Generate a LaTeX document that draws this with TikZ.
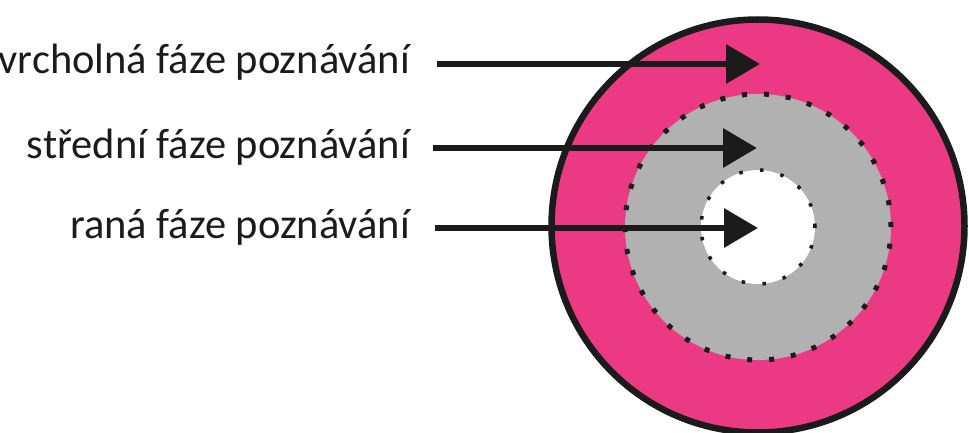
\documentclass[tikz,border=0pt]{standalone}
\usepackage{fontspec}
\setmainfont{Carlito}
\usetikzlibrary{arrows.meta,positioning}
\definecolor{ink}{RGB}{26,27,26}
\definecolor{peak}{RGB}{236,57,132}
\definecolor{mid}{RGB}{176,177,176}

\begin{document}
\begin{tikzpicture}[
    x=1pt, y=-1pt,
    ring/.style={circle, inner sep=0pt, outer sep=0pt, minimum size=#1},
    phase/.style={anchor=base east, inner sep=0pt, text=ink,
                  font=\fontsize{42.5}{50}\selectfont},
    arrow/.style={-{Triangle[length=34pt, width=38pt]}, line width=6.5pt, ink}
]
\useasboundingbox (0,0) rectangle (969,433);

% Rings
\node[ring=413pt, fill=peak, draw=ink, line width=6.5pt] (outer) at (758,226) {};
\node[ring=266pt, fill=mid, draw=ink, line width=5pt,
      dash pattern=on 5pt off 17pt] (middle) at (758,227) {};
\node[ring=114pt, fill=white, draw=ink, line width=3.5pt,
      dash pattern=on 3.5pt off 17.5pt] (inner) at (758,227) {};

% Arrow tips
\coordinate (tipA) at (760,64);
\coordinate (tipB) at (757,148);
\coordinate (tipC) at (758,228);

% Labels
\node[phase] (vrchol) at (410,74) {vrcholná fáze poznávání};
\node[phase] (stred) at (410,158) {střední fáze poznávání};
\node[phase] (rana) at (410,238) {raná fáze poznávání};

% Arrows
\draw[arrow] ([xshift=27pt]vrchol.east |- tipA) -- (tipA);
\draw[arrow] ([xshift=23pt]stred.east |- tipB) -- (tipB);
\draw[arrow] ([xshift=25pt]rana.east |- tipC) -- (tipC);
\end{tikzpicture}
\end{document}
